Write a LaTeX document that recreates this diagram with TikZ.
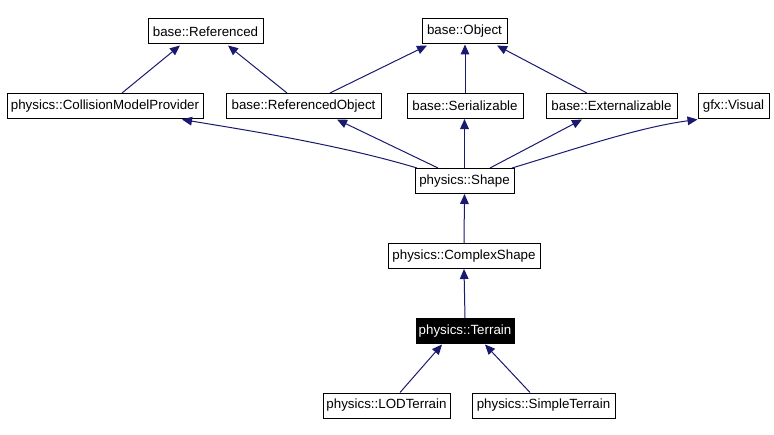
\documentclass[tikz,border=0pt]{standalone}
\usepackage{fontspec}
\setmainfont{Liberation Sans}
\usetikzlibrary{arrows.meta,calc}
\definecolor{edgeblue}{HTML}{191970}
\begin{document}
\begin{tikzpicture}[x=0.75pt,y=-0.75pt,
  cls/.style={draw=black,line width=0.75pt,fill=white,inner sep=0pt,
    minimum height=18.75pt,font=\fontsize{10pt}{12pt}\selectfont},
  cur/.style={cls,fill=black,text=white},
  inh/.style={draw=edgeblue,line width=0.75pt,
    -{Triangle[length=7.5pt,width=6.5pt,fill=edgeblue]}}]
\path[fill=white] (0,0) rectangle (774,435);
\useasboundingbox (0,0) rectangle (774,435);
% nodes
\node[cls,minimum width=86.25pt] (ref) at (205.5,31.5) {base::Referenced};
\node[cls,minimum width=63.75pt] (obj) at (464.5,31.5) {base::Object};
\node[cls,minimum width=147pt] (cmp) at (105,106) {physics::CollisionModelProvider};
\node[cls,minimum width=116.25pt] (refobj) at (303.5,106) {base::ReferencedObject};
\node[cls,minimum width=87pt] (ser) at (465,106) {base::Serializable};
\node[cls,minimum width=98.25pt] (ext) at (611.5,106) {base::Externalizable};
\node[cls,minimum width=53.25pt] (vis) at (733.5,106) {gfx::Visual};
\node[cls,minimum width=74.25pt] (shape) at (464.5,181) {physics::Shape};
\node[cls,minimum width=114pt] (cshape) at (464,256) {physics::ComplexShape};
\node[cur,minimum width=73.5pt] (terrain) at (465,331) {physics::Terrain};
\node[cls,minimum width=95.25pt] (lod) at (386.5,405.5) {physics::LODTerrain};
\node[cls,minimum width=107.25pt] (simple) at (543.5,405.5) {physics::SimpleTerrain};
% edges
\draw[inh] ($(cmp.north)+(17,0)$) -- ($(ref.south)+(-25.5,1)$);
\draw[inh] ($(refobj.north)+(-16.5,0)$) -- ($(ref.south)+(22.5,1)$);
\draw[inh] ($(refobj.north)+(26.5,0)$) -- ($(obj.south)+(-37.5,1)$);
\draw[inh] (ser.north) -- (ser.north |- obj.south);
\draw[inh] ($(ext.north)+(-24.5,0)$) -- ($(obj.south)+(32.5,1)$);
\draw[inh] ($(shape.north)+(-47.5,0)$) .. controls +(-80,-24) and +(60,10) .. ($(cmp.south)+(77,0.5)$);
\draw[inh] ($(shape.north)+(-26.5,0)$) -- ($(refobj.south)+(33.5,0.5)$);
\draw[inh] (shape.north) -- (shape.north |- ser.south);
\draw[inh] ($(shape.north)+(25.5,0)$) -- ($(ext.south)+(-29.5,0.5)$);
\draw[inh] ($(shape.north)+(47.5,0)$) .. controls +(60,-18) and +(-60,8) .. ($(vis.south west)+(0,0.5)$);
\draw[inh] (cshape.north) -- (shape.south);
\draw[inh] (terrain.north) -- (cshape.south);
\draw[inh] ($(lod.north)+(13.5,0)$) -- ($(terrain.south)+(-23,0.5)$);
\draw[inh] ($(simple.north)+(-13.5,0)$) -- ($(terrain.south)+(20,0.5)$);
\end{tikzpicture}
\end{document}
